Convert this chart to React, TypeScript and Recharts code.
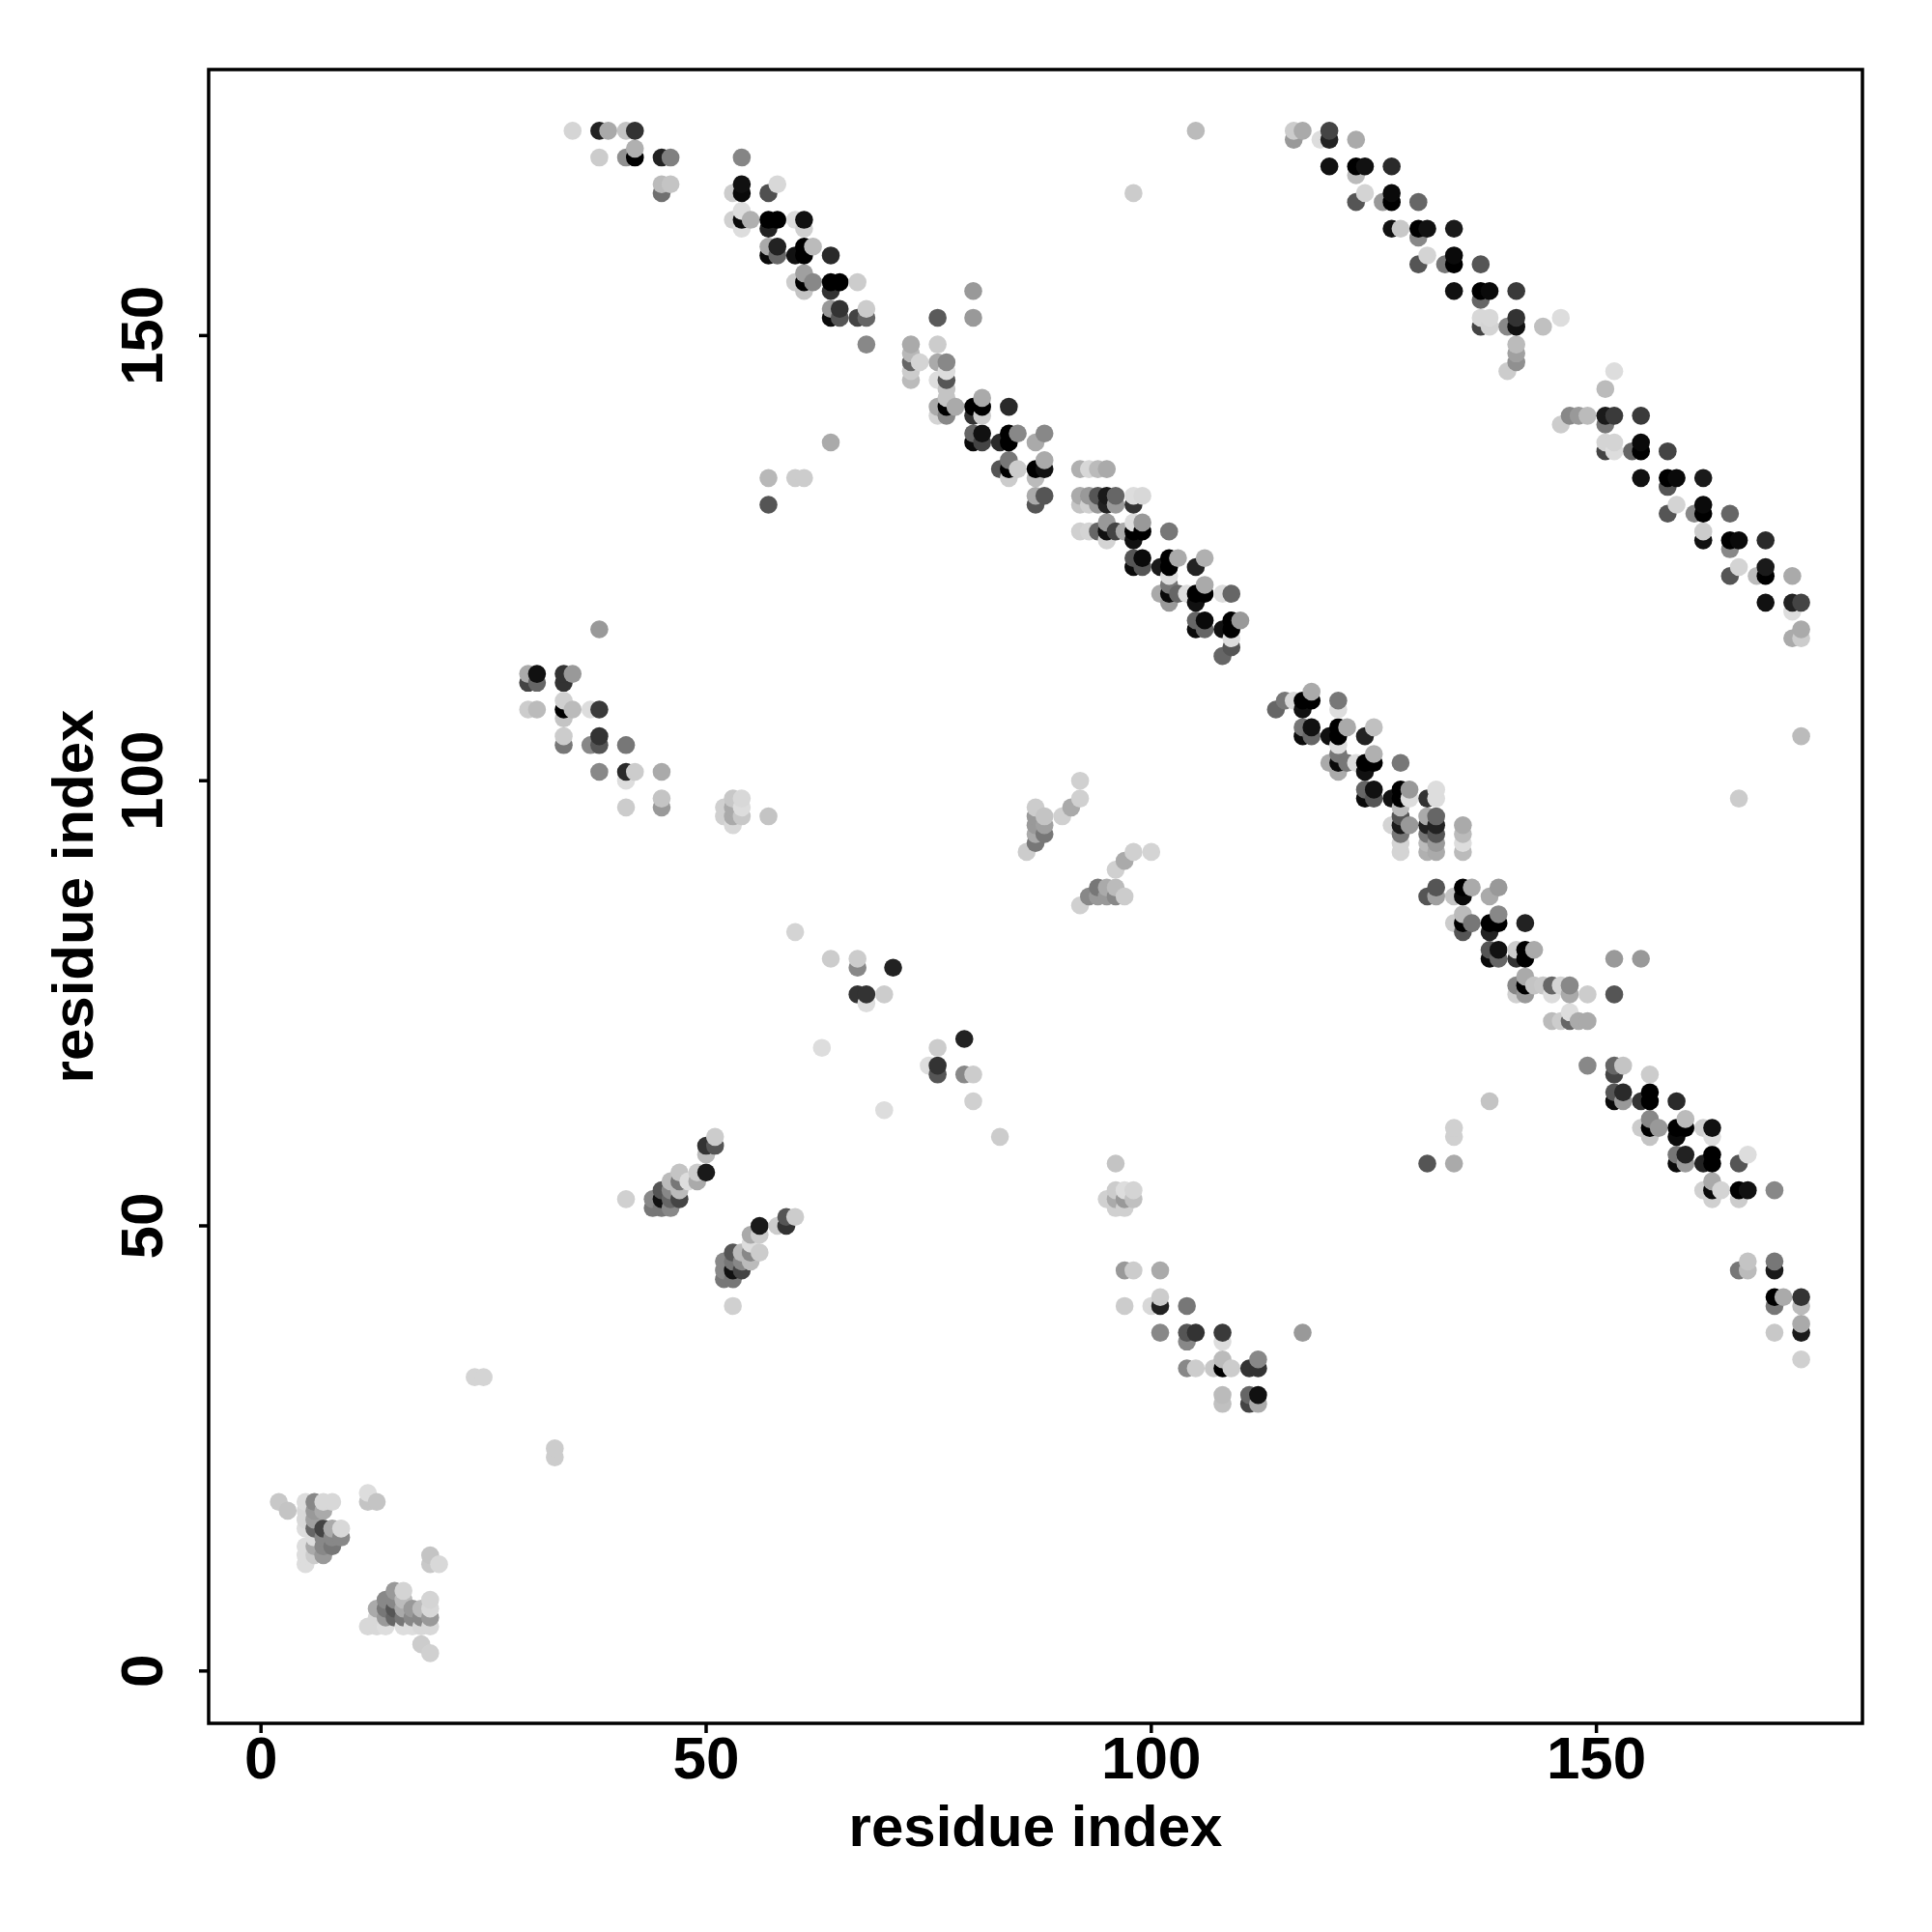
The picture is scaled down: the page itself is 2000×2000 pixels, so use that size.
import React from 'react';
import { ScatterChart, Scatter, XAxis, YAxis, ReferenceArea } from 'recharts';

// every contact is [residue i, residue j, grey level]
const nTerminalContacts = [
  [2,19,0xc8],[3,18,0xc4],[5,19,0xdd],[5,18,0xd8],[5,17,0xd8],[5,16,0xdd],[5,14,0xdd],[5,13,0xdd],[5,12,0xdd],
  [6,19,0x88],[6,18,0x99],[6,17,0xa0],[6,16,0x66],[6,15,0xdd],[6,14,0xaa],[6,13,0xcc],
  [7,19,0xd8],[7,18,0xaa],[7,16,0x44],[7,15,0x88],[7,14,0x88],[7,13,0x99],
  [8,19,0xd8],[8,16,0xaa],[8,15,0x88],[8,14,0x77],[9,16,0xd8],[9,15,0x88],
  [12,20,0xdd],[12,19,0xc4],[13,19,0xc4],[19,13,0xc4],[19,12,0xc8],[20,12,0xd8],
  [12,5,0xd8],[13,5,0xd8],[13,7,0xaa],[13,6,0xd8],[14,8,0x88],[14,7,0x77],[14,6,0x99],[14,5,0xdd],
  [15,9,0x99],[15,8,0x88],[15,7,0x55],[15,6,0x66],[16,9,0xd4],[16,8,0xbb],[16,7,0xaa],[16,6,0x77],[16,5,0xdd],
  [17,7,0x99],[17,6,0x88],[17,5,0xdd],[18,7,0xbb],[18,6,0x88],[18,5,0xd8],
  [19,8,0xd4],[19,7,0xd8],[19,6,0x99],[19,5,0xd8],[18,3,0xcc],[19,2,0xd0],
  [24,33,0xd4],[25,33,0xd4],[33,25,0xcc],[33,24,0xcc],
];

const strandPairContacts = [
  [41,53,0xd0],[44,53,0x88],[44,52,0x77],[45,54,0x55],[45,53,0x11],[45,52,0x77],
  [46,55,0xbb],[46,54,0x88],[46,53,0x66],[46,52,0x88],[47,56,0xc4],[47,55,0x77],[47,54,0xbb],[47,53,0x44],
  [48,55,0xdd],[49,56,0xcc],[49,55,0xaa],[50,58,0xbb],[50,59,0x33],[50,56,0x1a],[51,59,0x55],[51,60,0xcc],
  [52,44,0x77],[52,45,0x88],[52,46,0x88],[53,47,0x55],[53,46,0x77],[53,45,0x11],[53,44,0x77],
  [54,47,0xbb],[54,46,0x88],[54,45,0x44],[55,48,0xdd],[55,47,0x88],[55,46,0xbb],[55,49,0xaa],
  [56,49,0xcc],[56,50,0x1a],[56,47,0xcc],[58,50,0xcc],[59,51,0x55],[59,50,0x33],[60,51,0xcc],[53,41,0xd0],
];

const midLeftContacts = [
  [30,112,0xaa],[30,111,0x44],[31,112,0x11],[31,111,0x66],[34,112,0x33],[34,111,0x33],[35,112,0x99],
  [30,108,0xcc],[31,108,0xbb],[34,109,0xd0],[34,108,0x00],[34,107,0xc4],[35,108,0xbb],[37,108,0xdd],[38,108,0x3a],
  [34,105,0xcc],[34,104,0x77],[37,104,0x88],[38,105,0x33],[38,104,0x55],[41,104,0x77],
  [38,117,0x99],[38,101,0x88],[41,101,0x2a],[41,100,0xdd],[42,101,0xcc],[45,101,0xaa],
  [41,97,0xcc],[45,98,0xc4],[45,97,0x99],
  [53,98,0xc8],[54,98,0xd8],[52,97,0xd0],[53,97,0xaa],[54,97,0xdd],[52,96,0xd0],[53,96,0xaa],[54,96,0xc8],[53,95,0xd8],[57,96,0xc4],
];

const topLeftContacts = [
  [35,173,0xd5],[38,173,0x22],[39,173,0xaa],[41,173,0xc4],[42,173,0x33],
  [38,170,0xcc],[41,170,0x90],[42,170,0x00],[42,171,0xb0],[45,170,0x22],[46,170,0x80],
  [45,167,0xbb],[46,167,0xc4],[45,166,0x70],[54,170,0x85],[54,167,0x11],[54,166,0x0a],[53,166,0xcc],
  [57,166,0x50],[58,167,0xd8],[53,163,0xd0],[54,163,0x0a],[54,164,0xdd],[54,162,0xdd],[55,163,0xb0],
  [57,163,0x00],[58,163,0x00],[57,162,0x22],[60,163,0xdd],[61,163,0x11],[61,162,0xd0],
  [57,160,0xaa],[57,159,0x0a],[58,160,0x22],[58,159,0x66],[60,159,0x11],[61,160,0x00],[61,159,0x00],[62,160,0xbb],[64,159,0x2a],
  [60,156,0xcc],[61,157,0xa0],[61,156,0x00],[61,155,0xc4],[62,156,0x88],[64,156,0x00],[65,156,0x00],[64,155,0x33],[67,156,0xcc],
  [64,153,0x99],[64,152,0x0a],[65,153,0x33],[65,152,0x55],[67,152,0x44],[68,152,0x66],[68,153,0xcc],[68,149,0x88],
  [57,134,0xb8],[57,131,0x55],[60,134,0xcc],[61,134,0xcc],[64,138,0xaa],
];

const centralDiagonalContacts = [
  [80,155,0x99],[80,152,0x99],[76,152,0x5a],[73,149,0xaa],[73,148,0xb8],[73,147,0x66],[74,147,0xd4],[73,146,0xcc],[73,145,0xbb],
  [76,149,0xcc],[76,147,0xaa],[77,147,0x88],[77,146,0xdd],[77,145,0x55],[76,145,0xdd],[77,144,0xc4],[77,143,0xc4],
  [76,142,0xaa],[77,142,0x00],[76,141,0xd4],[77,141,0x88],[78,142,0xaa],
  [80,142,0x00],[80,141,0x33],[81,143,0xaa],[81,142,0x00],[81,141,0xcc],[84,142,0x2a],
  [80,139,0x66],[80,138,0x0a],[81,139,0x11],[81,138,0x44],[83,138,0x2a],[84,139,0x00],[84,138,0x00],[85,139,0x88],[87,138,0xaa],[88,139,0x88],
  [84,136,0x77],[83,135,0x55],[84,135,0x00],[84,134,0xcc],[85,135,0xcc],[87,135,0x00],[88,135,0x11],[88,136,0xaa],[87,134,0xbb],
  [87,132,0xaa],[87,131,0x55],[88,132,0x55],[92,135,0xb0],[93,135,0xd8],[94,135,0xbb],[95,135,0xaa],
  [92,132,0xaa],[93,132,0x99],[94,132,0x55],[95,132,0x1a],[96,132,0x66],[92,131,0xc4],[93,131,0xd0],[94,131,0x99],[95,131,0x22],[96,131,0x99],
  [98,132,0xdd],[99,132,0xd8],[98,131,0x33],
  [92,128,0xd0],[93,128,0xd4],[94,128,0x66],[95,128,0x11],[95,129,0x99],[95,127,0xd4],[96,128,0x44],[97,128,0xaa],
  [98,128,0x00],[99,128,0x00],[98,129,0xdd],[99,129,0x99],[98,127,0x11],[102,128,0x77],
  [98,125,0x55],[98,124,0x0a],[99,125,0x0a],[99,124,0x55],[101,124,0x1a],[102,125,0x00],[102,124,0x00],[103,125,0xaa],[105,124,0x22],[106,125,0xb0],
  [102,123,0xdd],[102,122,0x77],[102,121,0x0a],[102,120,0x99],[101,121,0xaa],[103,121,0x66],[104,121,0xdd],
  [105,121,0x00],[105,120,0x11],[106,122,0xaa],[106,121,0x00],[108,121,0xdd],[109,121,0x66],
  [105,118,0x66],[105,117,0x0a],[106,118,0x0a],[106,117,0x66],[108,117,0x11],[109,118,0x00],[109,117,0x00],[110,118,0x99],[109,116,0xdd],[109,115,0x55],[108,114,0x66],
];

const topRightContacts = [
  [98,166,0xcc],[105,173,0xbb],
  [116,172,0x99],[116,173,0xcc],[117,173,0xaa],[119,172,0xdd],[120,173,0x44],[120,172,0x22],[123,172,0xaa],
  [120,169,0x11],[123,169,0x00],[124,169,0x11],[127,169,0x2a],[123,168,0xbb],
  [123,165,0x55],[124,166,0xd4],[126,165,0x99],[127,166,0x0a],[127,165,0x00],[130,165,0x66],
  [127,162,0x11],[128,162,0xc8],[130,162,0x00],[131,162,0x11],[134,162,0x1a],[130,161,0x88],
  [130,158,0x55],[131,159,0xd4],[133,158,0x77],[134,159,0x0a],[134,158,0x00],[137,158,0x55],
  [134,155,0x11],[137,155,0x00],[138,155,0x0a],[141,155,0x3a],[137,154,0x66],
  [137,151,0x44],[137,152,0xd8],[138,152,0xd8],[138,151,0xd4],[140,151,0x88],[141,152,0x33],[141,151,0x11],[144,151,0xc0],[146,152,0xdd],
  [141,149,0xbb],[141,148,0xa0],[141,147,0x90],[140,146,0xcc],[152,146,0xdd],[151,144,0xbb],
  [147,141,0x88],[148,141,0x99],[149,141,0xbb],[151,141,0x1a],[152,141,0x3a],[155,141,0x3a],[146,140,0xcc],[151,140,0x77],
  [151,138,0xd4],[151,137,0x44],[152,138,0xd4],[152,137,0xdd],[154,137,0x66],[155,138,0x0a],[155,137,0x00],[158,137,0x44],
  [155,134,0x11],[158,134,0x00],[159,134,0x0a],[162,134,0x1a],[158,133,0x55],
  [158,130,0x55],[159,131,0xd4],[161,130,0x88],[162,131,0x0a],[162,130,0x00],[165,130,0x66],
  [162,128,0xcc],[162,127,0x11],[165,127,0x00],[166,127,0x0a],[169,127,0x2a],[165,126,0x88],
  [165,123,0x55],[166,124,0xd4],[168,123,0xbb],[169,124,0x1a],[169,123,0x00],[172,123,0xaa],
  [169,120,0x11],[172,120,0x22],[173,120,0x44],[172,119,0xdd],[172,116,0xaa],[173,117,0xaa],[173,116,0xcc],[173,105,0xbb],[166,98,0xcc],
];

const lowerDiagonalContacts = [
  [114,108,0x66],[115,109,0x77],[116,109,0xd8],[117,109,0x00],[117,108,0x11],[118,110,0xaa],[118,109,0x00],[121,109,0x77],[121,108,0xdd],
  [117,106,0x77],[117,105,0x0a],[118,106,0x11],[118,105,0x66],[120,105,0x11],[121,106,0x00],[121,105,0x00],[122,106,0xaa],[124,105,0x22],[125,106,0xc0],
  [121,104,0xdd],[121,103,0x77],[121,102,0x0a],[121,101,0xaa],[120,102,0xaa],[122,102,0x77],[123,102,0xdd],[124,102,0x00],[124,101,0x11],[125,103,0xb0],[125,102,0x00],[128,102,0x77],
  [124,99,0x66],[124,98,0x0a],[125,99,0x11],[125,98,0x55],[127,98,0x11],[128,99,0x00],[128,98,0x00],[129,99,0x99],[129,98,0xdd],
  [128,97,0xbb],[128,96,0x55],[128,95,0x1a],[128,94,0x77],[127,95,0xd4],[129,95,0x99],[128,93,0xd4],[128,92,0xd4],
  [131,98,0x33],[132,99,0xdd],[132,98,0xdd],[131,96,0xaa],[132,96,0x66],[131,95,0x22],[132,95,0x22],[131,94,0x77],[132,94,0x55],[132,93,0x99],[131,93,0xbb],[131,92,0xb0],[132,92,0xaa],
  [135,95,0xaa],[135,94,0xbb],[135,93,0xdd],[135,92,0xbb],
  [131,87,0x55],[132,88,0x55],[132,87,0xa0],[134,87,0xc4],[135,88,0x00],[135,87,0x0a],[136,88,0xaa],[138,87,0xaa],[139,88,0x99],
  [134,84,0xcc],[135,85,0xbb],[135,84,0x00],[135,83,0x55],[136,84,0x77],[138,84,0x00],[138,83,0x22],[139,85,0x88],[139,84,0x00],[142,84,0x22],
  [138,81,0x55],[138,80,0x0a],[139,81,0x11],[139,80,0x66],[141,80,0x33],[141,81,0xcc],[142,81,0x00],[142,80,0x00],[143,81,0xaa],
  [141,77,0x88],[141,76,0xd0],[142,78,0xaa],[142,77,0x00],[142,76,0x99],[143,77,0xc4],[144,77,0xc8],[145,77,0x66],[145,76,0xdd],[146,77,0xd4],[147,77,0x88],[147,76,0xaa],[149,76,0xcc],
  [152,76,0x55],[152,80,0x99],[155,80,0x99],[145,73,0xbb],[146,73,0xcc],[147,74,0xdd],[147,73,0x66],[148,73,0xaa],[149,73,0xaa],
  [138,64,0xc4],[134,61,0xd0],[134,60,0xd0],[131,57,0x55],[134,57,0xaa],
  [149,68,0x88],[152,68,0x66],[152,67,0x44],[153,68,0xc4],[156,67,0xcc],
  [152,65,0x55],[152,64,0x0a],[153,65,0x2a],[153,64,0x99],[155,64,0x33],[156,65,0x00],[156,64,0x00],[159,64,0x2a],
  [155,61,0xcc],[156,62,0x88],[156,61,0x00],[156,60,0xc4],[157,61,0x99],[159,61,0x00],[159,60,0x0a],[160,62,0xbb],[160,61,0x00],[162,61,0xd0],[163,61,0x11],[163,60,0xdd],
  [159,58,0x77],[159,57,0x0a],[160,58,0x22],[160,57,0x99],[162,57,0x22],[163,58,0x00],[163,57,0x00],[166,57,0x55],[167,58,0xdd],
  [162,54,0xd0],[163,55,0xaa],[163,54,0x0a],[163,53,0xd0],[164,54,0xd4],[166,54,0x00],[166,53,0xcc],[167,54,0x11],[170,54,0x88],
  [166,45,0x77],[167,46,0xc4],[167,45,0xbb],[170,46,0x77],[170,45,0x1a],
  [170,42,0x00],[170,41,0x77],[171,42,0xaa],[173,42,0x33],[173,41,0xbb],[173,39,0xaa],[173,38,0x1a],[170,38,0xc8],[173,35,0xd0],
];

const centreContacts = [
  [60,83,0xd4],[64,80,0xcc],[67,80,0xcc],[67,79,0x88],[67,76,0x33],[68,76,0x33],[68,75,0xdd],[70,76,0xcc],[71,79,0x22],
  [63,70,0xdd],[70,63,0xdd],[75,68,0xdd],[76,70,0xcc],[76,68,0x33],[76,67,0x55],[79,71,0x22],[79,67,0x88],[80,67,0xcc],[80,64,0xd0],[83,60,0xcc],
  [86,92,0xcc],[87,97,0xcc],[87,96,0x99],[87,95,0x99],[87,94,0xaa],[87,93,0x77],[88,96,0xc4],[88,95,0xa0],[88,94,0x77],
  [90,96,0xd0],[91,97,0xaa],[92,98,0xd0],[92,100,0xd0],
  [92,86,0xd0],[93,87,0x88],[94,88,0x77],[94,87,0x99],[95,88,0xaa],[95,87,0x99],[96,88,0xbb],[96,87,0x88],[97,87,0xcc],[96,90,0xd0],[97,91,0xaa],[98,92,0xd0],[100,92,0xd4],
];

const lowerMiddleContacts = [
  [96,57,0xc4],[95,53,0xd0],[96,54,0xcc],[96,53,0xaa],[96,52,0xd0],[97,54,0xdd],[97,53,0x99],[97,52,0xd0],[98,54,0xd4],[98,53,0xc0],
  [97,45,0x99],[98,45,0xcc],[101,45,0xaa],[97,41,0xcc],[100,41,0xd8],[101,41,0x22],[101,42,0xcc],[104,41,0x77],
  [101,38,0x88],[104,38,0x55],[105,38,0x33],[108,38,0x3a],[104,37,0x88],[108,37,0xdd],[117,38,0x99],
  [104,34,0x88],[105,34,0xcc],[107,34,0xc8],[108,35,0xbb],[108,34,0x00],[109,34,0xcc],[111,34,0x33],[112,35,0x88],[112,34,0x33],
  [108,31,0xbb],[108,30,0xc0],[111,31,0x66],[111,30,0x44],[112,31,0x11],[112,30,0xaa],
];

const axisTicks = [0, 50, 100, 150];
const axisTitle = 'residue index';

const contacts = [
  ...nTerminalContacts,
  ...strandPairContacts,
  ...midLeftContacts,
  ...topLeftContacts,
  ...centralDiagonalContacts,
  ...topRightContacts,
  ...lowerDiagonalContacts,
  ...centreContacts,
  ...lowerMiddleContacts,
]
  .map(([i, j, grey]) => ({ i, j, grey }))
  // the original plots column by column, going up
  .sort((a, b) => a.i - b.i || a.j - b.j);

const FONT = '"Liberation Sans", Arial, sans-serif';
const DOMAIN: [number, number] = [-5.88, 179.88];

const XTick = ({ x, y, payload }: any) => (
  <text x={x} y={y + 45} textAnchor="middle" fontFamily={FONT} fontWeight="bold" fontSize={62} fill="#000">
    {payload.value}
  </text>
);

const YTick = ({ x, y, payload }: any) => (
  <text
    x={x - 36}
    y={y}
    transform={`rotate(-90 ${x - 36} ${y})`}
    textAnchor="middle"
    fontFamily={FONT}
    fontWeight="bold"
    fontSize={62}
    fill="#000"
  >
    {payload.value}
  </text>
);

const ContactDot = (props: any) => {
  const grey = props.payload.grey;
  return <circle cx={props.cx} cy={props.cy} r={9.3} fill={`rgb(${grey},${grey},${grey})`} />;
};

export default function App() {
  const labelStyle = { fontFamily: FONT, fontWeight: 'bold', fontSize: 60, fill: '#000' };
  return (
    <div style={{ position: 'absolute', left: 0, top: 0, width: 2000, height: 2000, background: '#fff' }}>
      <ScatterChart width={2000} height={2000} margin={{ top: 72, right: 72, bottom: 0, left: 0 }}>
        <ReferenceArea
          x1={DOMAIN[0]}
          x2={DOMAIN[1]}
          y1={DOMAIN[0]}
          y2={DOMAIN[1]}
          fill="none"
          stroke="#000"
          strokeWidth={3.5}
          fillOpacity={0}
          ifOverflow="visible"
        />
        <XAxis
          type="number"
          dataKey="i"
          domain={DOMAIN}
          ticks={axisTicks}
          height={216}
          axisLine={false}
          tickSize={10}
          tickLine={{ stroke: '#000', strokeWidth: 3.5 }}
          tick={<XTick />}
          interval={0}
          allowDataOverflow
          label={{ value: axisTitle, position: 'insideBottom', offset: 89, style: labelStyle }}
        />
        <YAxis
          type="number"
          dataKey="j"
          domain={DOMAIN}
          ticks={axisTicks}
          width={216}
          axisLine={false}
          tickSize={10}
          tickLine={{ stroke: '#000', strokeWidth: 3.5 }}
          tick={<YTick />}
          interval={0}
          allowDataOverflow
          label={{ value: axisTitle, angle: -90, position: 'insideLeft', offset: 75, style: { ...labelStyle, textAnchor: 'middle' } }}
        />
        <Scatter data={contacts} shape={<ContactDot />} isAnimationActive={false} />
      </ScatterChart>
    </div>
  );
}
